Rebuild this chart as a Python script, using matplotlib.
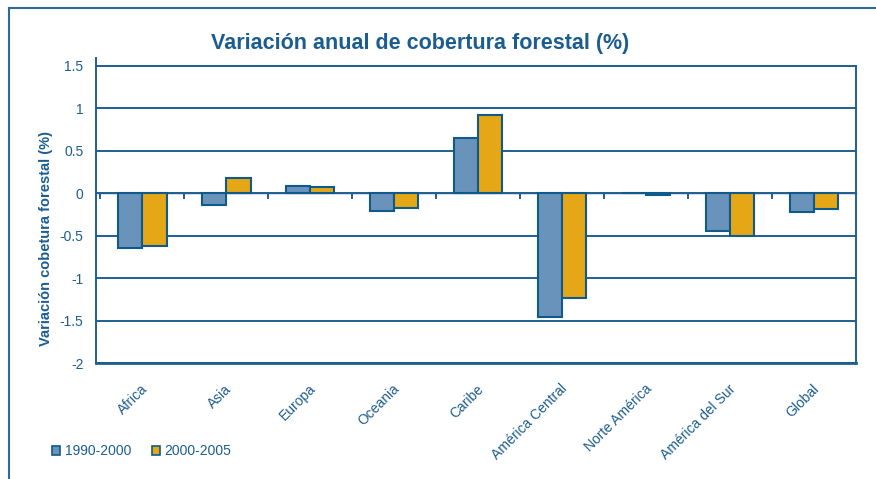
import matplotlib
matplotlib.use("Agg")
import matplotlib.pyplot as plt
import numpy as np
from matplotlib.lines import Line2D
from matplotlib.patches import Patch
import matplotlib.transforms as mtransforms

plt.rcParams['font.family'] = ['Liberation Sans', 'DejaVu Sans']

categories = ["Africa", "Asia", "Europa", "Oceania", "Caribe", "América Central",
              "Norte América", "América del Sur", "Global"]
v1990_2000 = [-0.64, -0.14, 0.09, -0.21, 0.65, -1.46, 0.0, -0.44, -0.22]
v2000_2005 = [-0.62, 0.18, 0.07, -0.17, 0.92, -1.23, -0.02, -0.50, -0.18]
series_labels = ["1990-2000", "2000-2005"]
yticks = [-2, -1.5, -1, -0.5, 0, 0.5, 1, 1.5]
ytick_labels = ["-2", "-1.5", "-1", "-0.5", "0", "0.5", "1", "1.5"]

TEXT = "#1C5D90"
EDGE = "#0F5A8C"
GRID = "#1F5F8F"
BLUE = "#6A93BC"
GOLD = "#E5A715"

W, H = 876, 479
fig = plt.figure(figsize=(W / 100, H / 100), dpi=100)
ax = fig.add_axes([96 / W, 1 - 363.3 / H, (856 - 96) / W, (363.3 - 65.7) / H])

x = np.arange(len(categories))
bw = 0.29
ax.bar(x - bw / 2, v1990_2000, bw, color=BLUE, edgecolor=EDGE, linewidth=1.5, zorder=3,
       label=series_labels[0])
ax.bar(x + bw / 2, v2000_2005, bw, color=GOLD, edgecolor=EDGE, linewidth=1.5, zorder=3,
       label=series_labels[1])

ax.set_xlim(-0.55, len(categories) - 0.5)
ax.set_ylim(-2, 1.5)
ax.set_yticks(yticks)
ax.set_yticklabels(ytick_labels)
ax.tick_params(axis='y', length=0, pad=9, labelsize=10, labelcolor=TEXT)
ax.yaxis.grid(True, color=GRID, linewidth=1.4, zorder=1)
ax.set_axisbelow(True)
ax.axhline(yticks[0], color=GRID, linewidth=2.0, clip_on=False, zorder=2)

# category axis crosses at zero
ax.spines['bottom'].set_position(('data', 0))
ax.spines['bottom'].set_color(GRID)
ax.spines['bottom'].set_linewidth(1.0)
ax.set_xticks(np.arange(len(categories)) - 0.5)
ax.set_xticklabels([])
ax.tick_params(axis='x', length=4, width=1.4, color=GRID, direction='out')
for s in ['left', 'right', 'top']:
    ax.spines[s].set_color(GRID)
    ax.spines[s].set_linewidth(1.4)
ax.plot([0, 0], [1, 1.025], transform=ax.transAxes, clip_on=False, color=GRID, lw=1.4)

trans = mtransforms.blended_transform_factory(ax.transData, ax.transAxes)
for i, c in enumerate(categories):
    ax.text(i - 0.02, -0.062, c, transform=trans, rotation=45, ha='right', va='top',
            rotation_mode='anchor', fontsize=10, color=TEXT)

fig.text(420 / W, 1 - 43 / H, "Variación anual de cobertura forestal (%)", ha='center',
         va='center', fontsize=15.5, fontweight='bold', color=TEXT)
fig.text(46 / W, 1 - 238 / H, "Variación cobetura forestal (%)", rotation=90, ha='center',
         va='center', fontsize=10.5, fontweight='bold', color=TEXT)

handles = [Patch(facecolor=BLUE, edgecolor=EDGE, linewidth=1.2),
           Patch(facecolor=GOLD, edgecolor=EDGE, linewidth=1.2)]
fig.legend(handles, series_labels, loc='center left', bbox_to_anchor=(52 / W, 1 - 451 / H),
           ncol=2, frameon=False, handlelength=0.6, handleheight=0.6, handletextpad=0.3,
           columnspacing=1.5, fontsize=10, labelcolor=TEXT, borderpad=0, borderaxespad=0)

# outer frame (top and left edges visible)
fig.add_artist(Line2D([9 / W, 1], [1 - 8 / H, 1 - 8 / H], color="#2E6B9B", lw=1.5,
                      transform=fig.transFigure))
fig.add_artist(Line2D([9 / W, 9 / W], [0, 1 - 8 / H], color="#2E6B9B", lw=1.5,
                      transform=fig.transFigure))

fig.savefig("out.png", dpi=100)
